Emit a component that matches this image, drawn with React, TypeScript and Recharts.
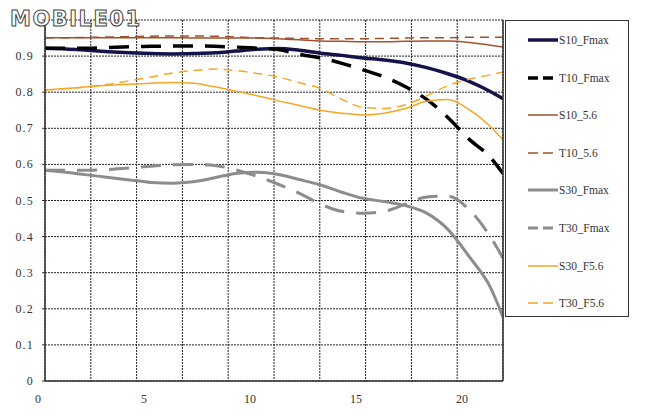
import React from "react";
import {
  LineChart,
  Line,
  XAxis,
  YAxis,
  CartesianGrid,
} from "recharts";

// field position (mm) and MTF values
const FIELD = [0, 1, 2, 3, 4, 5, 6, 7, 8, 9, 10, 11, 12, 13, 14, 15, 16, 17, 18, 19, 20, 21, 21.6];
const S10_FMAX = [0.922, 0.92, 0.916, 0.912, 0.909, 0.907, 0.906, 0.907, 0.909, 0.914, 0.919, 0.921, 0.916, 0.908, 0.902, 0.895, 0.889, 0.881, 0.868, 0.851, 0.83, 0.802, 0.782];
const T10_FMAX = [0.922, 0.922, 0.922, 0.924, 0.926, 0.927, 0.928, 0.928, 0.927, 0.925, 0.922, 0.918, 0.905, 0.895, 0.88, 0.862, 0.842, 0.815, 0.78, 0.73, 0.67, 0.62, 0.575];
const S10_56 = [0.951, 0.951, 0.951, 0.951, 0.951, 0.951, 0.951, 0.95, 0.95, 0.95, 0.95, 0.948, 0.945, 0.942, 0.941, 0.94, 0.94, 0.941, 0.942, 0.942, 0.938, 0.93, 0.925];
const T10_56 = [0.951, 0.951, 0.952, 0.953, 0.954, 0.955, 0.956, 0.956, 0.955, 0.953, 0.951, 0.95, 0.949, 0.948, 0.948, 0.948, 0.949, 0.95, 0.951, 0.951, 0.952, 0.952, 0.952];
const S30_FMAX = [0.584, 0.578, 0.571, 0.564, 0.557, 0.55, 0.548, 0.552, 0.563, 0.575, 0.578, 0.572, 0.558, 0.543, 0.523, 0.506, 0.497, 0.486, 0.465, 0.42, 0.345, 0.26, 0.177];
const T30_FMAX = [0.584, 0.584, 0.584, 0.586, 0.59, 0.595, 0.599, 0.6, 0.597, 0.585, 0.567, 0.545, 0.52, 0.49, 0.47, 0.465, 0.47, 0.49, 0.51, 0.512, 0.475, 0.4, 0.34];
const S30_F56 = [0.806, 0.81, 0.815, 0.819, 0.822, 0.825, 0.827, 0.825, 0.815, 0.803, 0.79, 0.776, 0.763, 0.75, 0.742, 0.737, 0.742, 0.755, 0.775, 0.78, 0.752, 0.705, 0.668];
const T30_F56 = [0.806, 0.81, 0.815, 0.822, 0.832, 0.842, 0.853, 0.86, 0.864, 0.86, 0.852, 0.842, 0.826, 0.81, 0.78, 0.758, 0.755, 0.765, 0.79, 0.818, 0.836, 0.848, 0.856];

const X_TICKS = [0, 5, 10, 15, 20];
const Y_TICKS = [0, 0.1, 0.2, 0.3, 0.4, 0.5, 0.6, 0.7, 0.8, 0.9, 1];
const GRID_COLUMNS = 10;

const data = FIELD.map((x, i) => ({
  x,
  s10f: S10_FMAX[i],
  t10f: T10_FMAX[i],
  s1056: S10_56[i],
  t1056: T10_56[i],
  s30f: S30_FMAX[i],
  t30f: T30_FMAX[i],
  s30f56: S30_F56[i],
  t30f56: T30_F56[i],
}));

const SERIES = [
  { key: "s10f", name: "S10_Fmax", color: "#14144a", width: 3.5, dash: undefined },
  { key: "t10f", name: "T10_Fmax", color: "#000000", width: 3.5, dash: "20 12" },
  { key: "s1056", name: "S10_5.6", color: "#a0522d", width: 1.5, dash: undefined },
  { key: "t1056", name: "T10_5.6", color: "#a0522d", width: 1.5, dash: "9 6" },
  { key: "s30f", name: "S30_Fmax", color: "#8c8c8c", width: 3, dash: undefined },
  { key: "t30f", name: "T30_Fmax", color: "#8c8c8c", width: 3, dash: "20 12" },
  { key: "s30f56", name: "S30_F5.6", color: "#f5a623", width: 1.5, dash: undefined },
  { key: "t30f56", name: "T30_F5.6", color: "#f5a623", width: 1.5, dash: "9 6" },
];

const FONT = "'Liberation Serif', 'DejaVu Serif', serif";

const XTick = (props: any) => {
  const { x, y, payload } = props;
  return (
    <text x={x - 7} y={y + 14} textAnchor="middle" fontSize={12} fontFamily={FONT} fill="#333">
      {payload.value}
    </text>
  );
};

const YTick = (props: any) => {
  const { x, y, payload } = props;
  if (payload.value >= 1) return null;
  return (
    <text x={x - 6} y={y + 4} textAnchor="end" fontSize={12} fontFamily={FONT} fill="#333" letterSpacing={1.2}>
      {payload.value === 0 ? "0" : payload.value.toFixed(1)}
    </text>
  );
};

// evenly spaced vertical grid columns across the plot area
const gridColumns = ({ offset }: any) =>
  Array.from({ length: GRID_COLUMNS + 1 }, (_, i) => offset.left + (offset.width * i) / GRID_COLUMNS);

const LegendBox = () => (
  <div
    style={{
      position: "absolute",
      left: 497,
      top: 12,
      border: "1px solid #333",
      width: 124,
      height: 297,
      boxSizing: "border-box",
      background: "#fff",
    }}
  >
    {SERIES.map((s, i) => (
      <div key={s.key} style={{ position: "absolute", left: 0, top: 19 + i * 37.6 - 7, height: 14, width: 124 }}>
        <svg width={30} height={14} style={{ position: "absolute", left: 22, top: 0 }}>
          <line
            x1={0}
            y1={7}
            x2={30}
            y2={7}
            stroke={s.color}
            strokeWidth={s.width}
            strokeDasharray={s.dash ? "10 5" : undefined}
          />
        </svg>
        <span
          style={{
            position: "absolute",
            left: 53,
            top: 0,
            fontFamily: FONT,
            fontSize: 11.5,
            lineHeight: "14px",
            color: "#333",
            whiteSpace: "nowrap",
          }}
        >
          {s.name}
        </span>
      </div>
    ))}
  </div>
);

export default function App() {
  return (
    <div style={{ position: "relative", width: 638, height: 408 }}>
      <LineChart width={638} height={408} data={data} margin={{ top: 12, right: 142, bottom: 0, left: 0 }}>
        <CartesianGrid stroke="#222" strokeDasharray="2 1" verticalCoordinatesGenerator={gridColumns} />
        <XAxis
          dataKey="x"
          type="number"
          domain={[0, 21.6]}
          ticks={X_TICKS}
          tick={<XTick />}
          tickLine={false}
          axisLine={{ stroke: "#333", strokeWidth: 1.5 }}
          height={35}
          allowDataOverflow
        />
        <YAxis
          type="number"
          domain={[0, 1]}
          ticks={Y_TICKS}
          tick={<YTick />}
          tickSize={3}
          tickLine={{ stroke: "#333" }}
          axisLine={{ stroke: "#333", strokeWidth: 1.5 }}
          width={37}
        />
        <YAxis
          yAxisId="r"
          orientation="right"
          domain={[0, 1]}
          tick={false}
          tickLine={false}
          axisLine={{ stroke: "#333", strokeWidth: 1.5 }}
          width={1}
        />
        {SERIES.map((s) => (
          <Line
            key={s.key}
            dataKey={s.key}
            name={s.name}
            type="monotone"
            stroke={s.color}
            strokeWidth={s.width}
            strokeDasharray={s.dash}
            dot={false}
            activeDot={false}
            isAnimationActive={false}
          />
        ))}
      </LineChart>
      <LegendBox />
      <div
        style={{
          position: "absolute",
          left: 2,
          top: -1,
          fontFamily: "'DejaVu Sans', sans-serif",
          fontWeight: "bold",
          fontSize: 21,
          letterSpacing: 1.5,
          color: "#fff",
          WebkitTextStroke: "1px #444",
        }}
      >
        MOBILE01
      </div>
    </div>
  );
}
